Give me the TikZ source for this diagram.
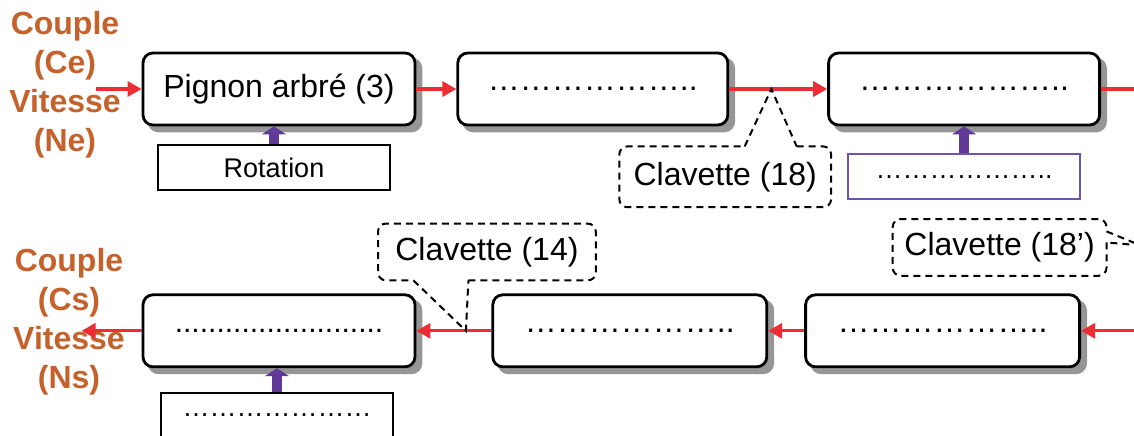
\documentclass[tikz,border=0pt]{standalone}
\usepackage{fontspec}
\setmainfont{Liberation Sans}
\usepackage{tikz}
\usetikzlibrary{arrows.meta,positioning,calc,backgrounds}
\definecolor{fluxred}{RGB}{237,45,52}
\definecolor{actpurple}{RGB}{96,58,150}
\definecolor{boxpurple}{RGB}{112,82,170}
\definecolor{labelorange}{RGB}{197,98,44}
\definecolor{shadowgray}{RGB}{150,150,150}
\tikzset{
  organe/.style={draw=black, line width=1.4pt, rounded corners=5pt, fill=white,
                 minimum height=36pt, minimum width=136pt, inner sep=2pt,
                 font=\fontsize{16}{19}\selectfont},
  ombre/.style={fill=shadowgray, rounded corners=5.5pt},
  entree/.style={draw=black, line width=0.8pt, fill=white, minimum width=116pt,
                 minimum height=22.5pt, inner sep=2pt,
                 font=\fontsize{13.5}{16}\selectfont},
  entreep/.style={entree, draw=boxpurple},
  clavbox/.style={inner sep=2pt, font=\fontsize{16}{19}\selectfont},
  liaison/.style={line width=1pt, dash pattern=on 3.5pt off 2.5pt},
  flux/.style={-{Triangle[length=7pt, width=7.5pt]}, line width=1.6pt, draw=fluxred},
  pousse/.style={-{Triangle[length=4pt, width=12pt]}, line width=5pt, draw=actpurple},
  grandeur/.style={align=center, inner sep=0pt, text=labelorange,
                   font=\bfseries\fontsize{16}{19.5}\selectfont}
}

\begin{document}
\begin{tikzpicture}[x=0.5pt, y=0.5pt]
  \useasboundingbox (0,0) rectangle (1134,-435);

  % chaine amont
  \node[organe] (a) at (279,-89) {Pignon arbré (3)};
  \node[organe, minimum width=135pt, right=20pt of a] (b) {………………..};
  \node[organe, minimum width=135.5pt, right=49pt of b] (c) {………………..};
  \node[entree, below=9pt of a, xshift=-2.5pt] (rot) {Rotation};
  \node[entreep, below=13.5pt of c] (pc) {………………..};
  \node[clavbox, minimum width=105.5pt, minimum height=30pt,
        below=10pt of b.south east, xshift=-2pt] (k18) {Clavette (18)};
  \node[clavbox, minimum width=106.5pt, minimum height=28pt,
        below=9.5pt of pc, xshift=17.75pt] (k18b) {Clavette (18’)};

  % chaine aval
  \node[organe, below=83.5pt of a, font=\fontsize{15}{18}\selectfont] (d) {.........................};
  \node[organe, minimum width=137pt, right=37.5pt of d] (e) {………………..};
  \node[organe, minimum width=137pt, right=18pt of e] (f) {………………..};
  \node[entree, below=12pt of d, xshift=-1pt] (rot2) {…………………};
  \node[clavbox, minimum width=108.5pt, minimum height=28pt,
        above=6.5pt of e.north west, xshift=-2.25pt] (k14) {Clavette (14)};

  \begin{scope}[on background layer]
    \foreach \n in {a,b,c,d,e,f}
      \fill[ombre] ($(\n.south west)+(3pt,-3pt)$) rectangle ($(\n.north east)+(3pt,-3pt)$);
  \end{scope}

  \node[grandeur] (ent) at (65,-85) {Couple\\(Ce)\\Vitesse\\(Ne)};
  \node[grandeur] (sor) at (69,-322) {Couple\\(Cs)\\Vitesse\\(Ns)};

  \coordinate[left=23pt of a.west] (src);
  \coordinate[right=25pt of c.east] (vers);
  \coordinate[right=30pt of f.east] (depuis);
  \coordinate[left=30pt of d.west] (sink);

  \draw[flux] (src) -- (a);
  \draw[flux] (a) -- (b);
  \draw[flux] (b) -- (c);
  \draw[flux] (c) -- (vers);
  \draw[flux] (depuis) -- (f);
  \draw[flux] (f) -- (e);
  \draw[flux] (e) -- (d);
  \draw[flux] (d) -- (sink);

  \draw[pousse] (rot) -- (rot |- a.south);
  \draw[pousse] (pc) -- (pc |- c.south);
  \draw[pousse] (rot2) -- (rot2 |- d.south);

  \coordinate (t18) at ($(b.east)!0.43!(c.west)$);
  \coordinate (k18g) at ($(k18.north)+(9.75pt,0)$);
  \coordinate (k18d) at ($(k18.north)+(35.75pt,0)$);
  \draw[liaison, rounded corners=4pt] (k18d) -| (k18.east) |- (k18.south) -| (k18.west) |- (k18g);
  \draw[liaison] (k18g) -- (t18) -- (k18d);

  \coordinate (t18b) at ($(k18b.east)+(17pt,1pt)$);
  \coordinate (k18bh) at ($(k18b.east)+(0,8pt)$);
  \coordinate (k18bb) at ($(k18b.east)+(0,2.5pt)$);
  \draw[liaison, rounded corners=4pt] (k18bb) |- (k18b.south) -| (k18b.west) |- (k18b.north) -| (k18bh);
  \draw[liaison] (k18bh) -- (t18b) -- (k18bb);

  \coordinate (t14) at ($(e.west)!0.34!(d.east)$);
  \coordinate (k14g) at ($(k14.south)+(-36.75pt,0)$);
  \coordinate (k14d) at ($(k14.south)+(-9.25pt,0)$);
  \draw[liaison, rounded corners=4pt] (k14d) -| (k14.east) |- (k14.north) -| (k14.west) |- (k14g);
  \draw[liaison] (k14g) -- (t14) -- (k14d);
\end{tikzpicture}
\end{document}
